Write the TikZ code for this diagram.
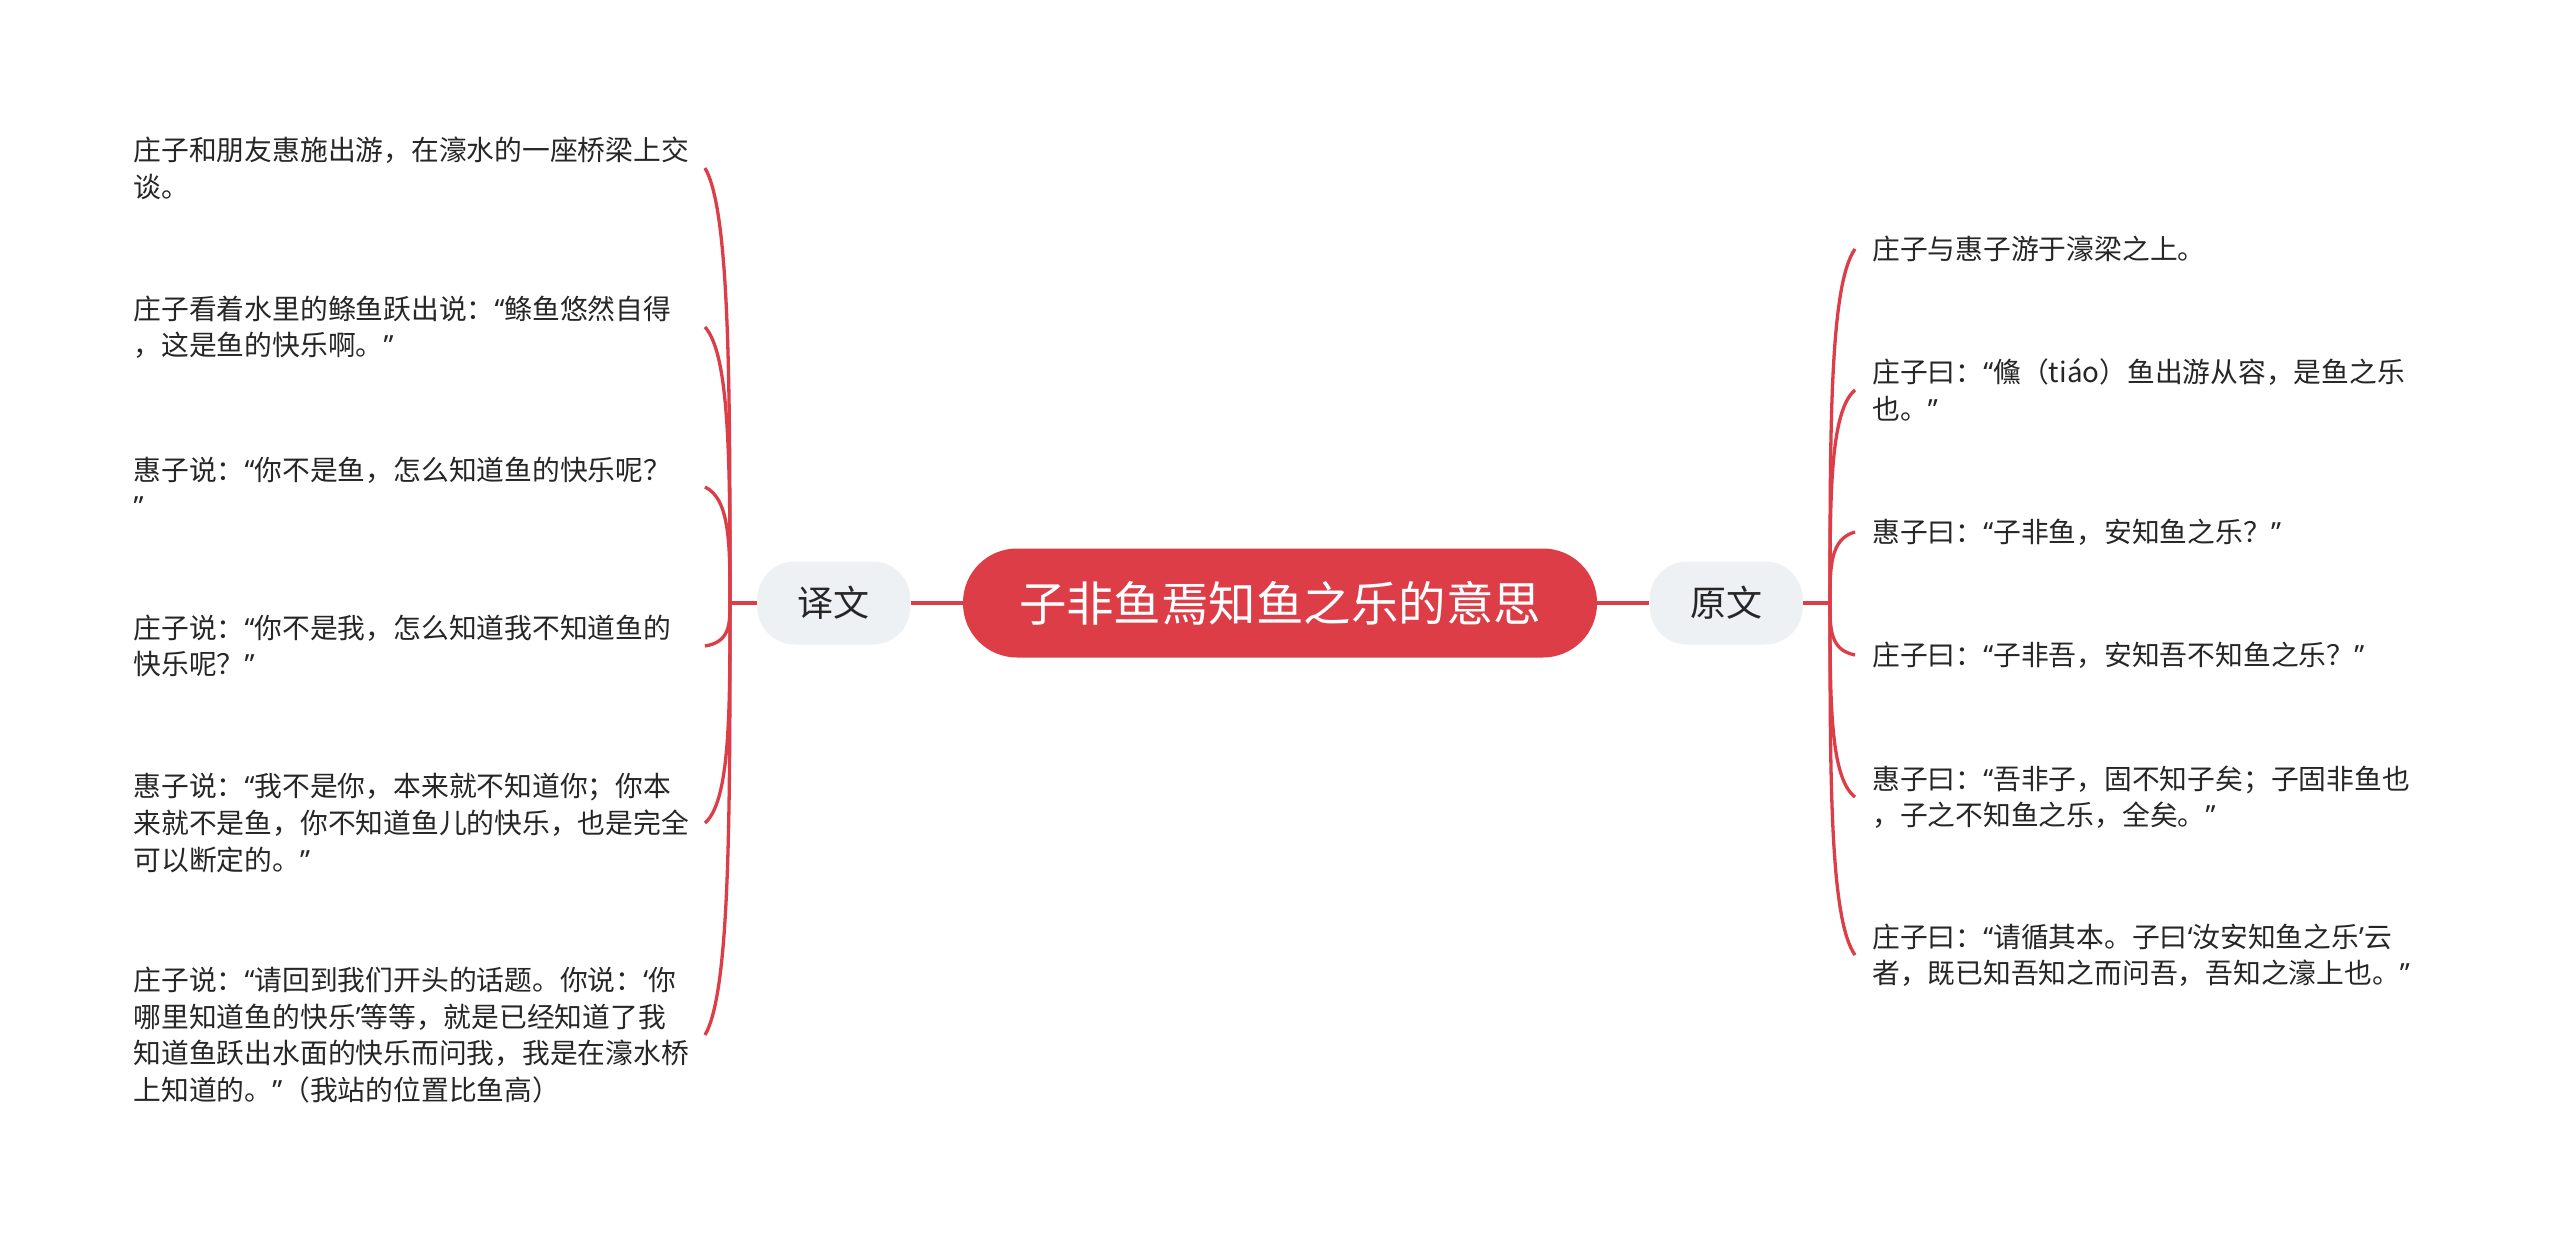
\documentclass[tikz,border=0pt]{standalone}
\usepackage{fontspec}
\newfontfamily\cjk{Noto Sans CJK SC}
\newfontfamily\quotefont{Noto Sans}
\newcommand{\dqo}{{\quotefont “}}
\newcommand{\dqc}{{\quotefont ”}}
\newcommand{\sqo}{{\quotefont ‘}}
\newcommand{\sqc}{{\quotefont ’}}
\usetikzlibrary{positioning}
\definecolor{mapred}{HTML}{DC3D47}
\definecolor{branchgray}{HTML}{EEF1F4}

\begin{document}
\begin{tikzpicture}[
    x=0.2mm,
    y=-0.2mm,
    link/.style={line width=0.66mm, mapred},
    topic/.style={rectangle, rounded corners=10.8mm, fill=mapred, text=white,
      minimum width=126.8mm, minimum height=21.8mm, font=\cjk\fontsize{27pt}{32pt}\selectfont},
    branch/.style={rectangle, rounded corners=7.5mm, fill=branchgray, text=black!85,
      minimum width=30.6mm, minimum height=16.6mm, font=\cjk\fontsize{20.5pt}{24pt}\selectfont},
    leaf/.style={inner ysep=0pt, align=left, text=black!85, font=\cjk\fontsize{15.8pt}{20.8pt}\selectfont},
    lleaf/.style={leaf, anchor=east, inner xsep=0pt, text width=114.2mm},
    rleaf/.style={leaf, anchor=west, inner xsep=3.4mm, text width=114mm}
  ]
    \useasboundingbox (0,0) rectangle (2560,1240);
    \fill[white] (0,0) rectangle (2560,1240);

    % centre
    \node[topic] (root) at (1280,603) {子非鱼焉知鱼之乐的意思};
    \node[branch, left=10.4mm of root] (yiwen) {译文};
    \node[branch, right=10.4mm of root] (yuanwen) {原文};
    \draw[link] (root) -- (yiwen);
    \draw[link] (root) -- (yuanwen);

    % 译文
    \coordinate (lfork) at (730,603);
    \draw[link] (yiwen.west) -- (lfork);
    \node[lleaf] (l1) at (705,168) {庄子和朋友惠施出游，在濠水的一座桥梁上交\\谈。};
    \node[lleaf] (l2) at (705,327) {庄子看着水里的鲦鱼跃出说：\dqo 鲦鱼悠然自得\\，这是鱼的快乐啊。\dqc};
    \node[lleaf] (l3) at (705,487) {惠子说：\dqo 你不是鱼，怎么知道鱼的快乐呢？\\\dqc};
    \node[lleaf] (l4) at (705,646) {庄子说：\dqo 你不是我，怎么知道我不知道鱼的\\快乐呢？\dqc};
    \node[lleaf] (l5) at (705,823) {惠子说：\dqo 我不是你，本来就不知道你；你本\\来就不是鱼，你不知道鱼儿的快乐，也是完全\\可以断定的。\dqc};
    \node[lleaf] (l6) at (705,1035) {庄子说：\dqo 请回到我们开头的话题。你说：\sqo 你\\哪里知道鱼的快乐\sqc 等等，就是已经知道了我\\知道鱼跃出水面的快乐而问我，我是在濠水桥\\上知道的。\dqc（我站的位置比鱼高）};
    \draw[link] (lfork) .. controls (730,385) and (730,211) .. (l1.east);
    \draw[link] (lfork) .. controls (730,465) and (730,355) .. (l2.east);
    \draw[link] (lfork) .. controls (730,545) and (730,499) .. (l3.east);
    \draw[link] (lfork) .. controls (730,624) and (730,642) .. (l4.east);
    \draw[link] (lfork) .. controls (730,713) and (730,801) .. (l5.east);
    \draw[link] (lfork) .. controls (730,819) and (730,992) .. (l6.east);

    % 原文
    \coordinate (rfork) at (1830,603);
    \draw[link] (yuanwen.east) -- (rfork);
    \node[rleaf] (r1) at (1855,249) {庄子与惠子游于濠梁之上。};
    \node[rleaf] (r2) at (1855,390) {庄子曰：\dqo 儵（tiáo）鱼出游从容，是鱼之乐\\也。\dqc};
    \node[rleaf] (r3) at (1855,532) {惠子曰：\dqo 子非鱼，安知鱼之乐？\dqc};
    \node[rleaf] (r4) at (1855,655) {庄子曰：\dqo 子非吾，安知吾不知鱼之乐？\dqc};
    \node[rleaf] (r5) at (1855,797) {惠子曰：\dqo 吾非子，固不知子矣；子固非鱼也\\，子之不知鱼之乐，全矣。\dqc};
    \node[rleaf] (r6) at (1855,955) {庄子曰：\dqo 请循其本。子曰\sqo 汝安知鱼之乐\sqc 云\\者，既已知吾知之而问吾，吾知之濠上也。\dqc};
    \draw[link] (rfork) .. controls (1830,426) and (1830,284) .. (r1.west);
    \draw[link] (rfork) .. controls (1830,496) and (1830,411) .. (r2.west);
    \draw[link] (rfork) .. controls (1830,567) and (1830,539) .. (r3.west);
    \draw[link] (rfork) .. controls (1830,629) and (1830,650) .. (r4.west);
    \draw[link] (rfork) .. controls (1830,700) and (1830,778) .. (r5.west);
    \draw[link] (rfork) .. controls (1830,779) and (1830,920) .. (r6.west);
  \end{tikzpicture}
\end{document}
